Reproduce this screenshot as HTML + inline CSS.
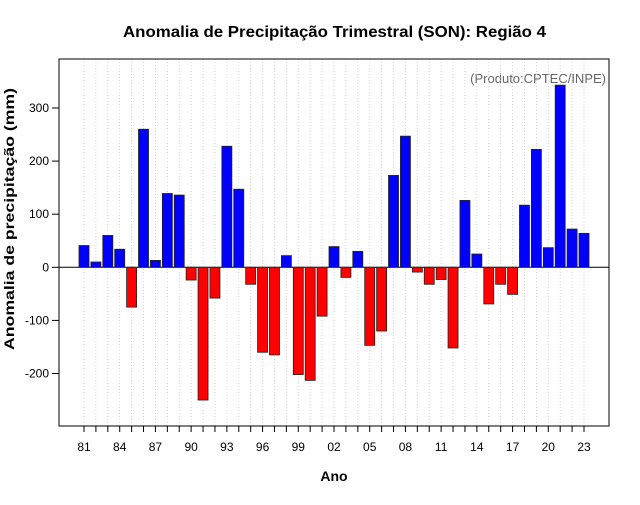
<!DOCTYPE html>
<html><head><meta charset="utf-8"><style>
body{margin:0;background:#fff;font-family:"Liberation Sans",sans-serif}
</style></head><body>
<svg id="chart" width="640" height="500" xmlns="http://www.w3.org/2000/svg" font-family="Liberation Sans, sans-serif">
<rect width="640" height="500" fill="#fff"/>
<text x="123" y="37" font-size="16" font-weight="bold" textLength="423" lengthAdjust="spacingAndGlyphs">Anomalia de Precipitação Trimestral (SON): Região 4</text>
<text x="606" y="83" font-size="13" fill="#666" text-anchor="end">(Produto:CPTEC/INPE)</text>
<text x="334" y="481" font-size="14" font-weight="bold" text-anchor="middle">Ano</text>
<text transform="translate(14,350) rotate(-90)" font-size="14" font-weight="bold" textLength="262" lengthAdjust="spacingAndGlyphs">Anomalia de precipitação (mm)</text>
<g id="grid"></g><g id="bars"></g><g id="axes"></g>
<rect x="59" y="59" width="550" height="367" fill="none" stroke="#000"/>
</svg>
<script>
const years=[1981,1982,1983,1984,1985,1986,1987,1988,1989,1990,1991,1992,1993,1994,1995,1996,1997,1998,1999,2000,2001,2002,2003,2004,2005,2006,2007,2008,2009,2010,2011,2012,2013,2014,2015,2016,2017,2018,2019,2020,2021,2022,2023];
const anomalies=[41,10,60,34,-75,260,13,139,136,-24,-250,-58,228,147,-32,-160,-165,22,-202,-213,-92,39,-19,30,-147,-120,173,247,-9,-32,-23,-152,126,25,-69,-32,-51,117,222,37,343,72,64];
const yTicks=[-200,-100,0,100,200,300];
const xTickYears=[1981,1984,1987,1990,1993,1996,1999,2002,2005,2008,2011,2014,2017,2020,2023];
const NS="http://www.w3.org/2000/svg";
const x=y=>84+(y-1981)*(500/42);
const yS=v=>267.3-v*0.531;
function mk(t,a,p){const e=document.createElementNS(NS,t);for(const k in a)e.setAttribute(k,a[k]);p.appendChild(e);return e;}
const grid=document.getElementById('grid'),bars=document.getElementById('bars'),axes=document.getElementById('axes');
years.forEach(yr=>{
 const l=mk('line',{x1:x(yr),x2:x(yr),y1:59,y2:426,stroke:'#ccc','stroke-dasharray':'1,2','stroke-width':0.8},grid);
 
 
});
mk('line',{x1:59,x2:609,y1:yS(0),y2:yS(0),stroke:'#000'},grid);
years.forEach((yr,i)=>{
 const v=anomalies[i];const y0=yS(0),y1=yS(v);
 const r=mk('rect',{x:x(yr)-5,y:Math.min(y0,y1),width:10,height:Math.abs(y1-y0),fill:v>=0?'#0000ff':'#ff0000',stroke:'#222','stroke-width':0.8},bars);
 
 
});
yTicks.forEach(t=>{
 mk('line',{x1:52,x2:59,y1:yS(t),y2:yS(t),stroke:'#000'},axes);
 const tx=mk('text',{x:49,y:yS(t)+4,'font-size':12,'text-anchor':'end'},axes);tx.textContent=t;
 
 
});
years.forEach(yr=>mk('line',{x1:x(yr),x2:x(yr),y1:426,y2:432,stroke:'#000'},axes));
xTickYears.forEach(yr=>{
 const tx=mk('text',{x:x(yr),y:451,'font-size':12,'text-anchor':'middle'},axes);tx.textContent=String(yr).slice(2);
 
 
});
</script>
</body></html>
